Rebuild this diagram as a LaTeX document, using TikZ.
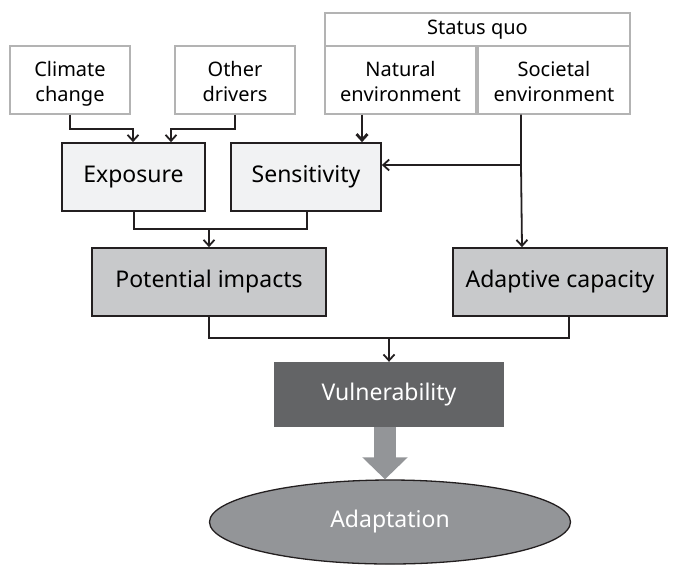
\documentclass[tikz,border=0pt]{standalone}
\usepackage{fontspec}
\setmainfont{Noto Sans}
\usepackage{tikz}
\usetikzlibrary{arrows.meta,shapes.geometric,calc}
\definecolor{boxline}{HTML}{231F20}
\definecolor{paleline}{HTML}{B3B3B3}
\definecolor{palefill}{HTML}{F1F2F3}
\definecolor{midfill}{HTML}{C8C9CB}
\definecolor{darkfill}{HTML}{636466}
\definecolor{fatgray}{HTML}{939598}
\newcommand{\twolines}[2]{\rule{0pt}{23pt}#1\\#2\rule[-6pt]{0pt}{6pt}}

\begin{document}
\begin{tikzpicture}[
  x=1pt, y=-1pt,
  small/.style={font=\fontsize{20}{25}\selectfont},
  large/.style={font=\fontsize{23}{27}\selectfont},
  driver/.style={draw=paleline, line width=1.4pt, fill=white, inner sep=0pt, align=center, minimum height=68pt, small},
  factor/.style={draw=boxline, line width=1.7pt, fill=palefill, inner sep=0pt, align=center, minimum height=68pt, large},
  impact/.style={factor, fill=midfill},
  vuln/.style={fill=darkfill, text=white, inner sep=0pt, minimum width=230pt, minimum height=65pt, large},
  outcome/.style={ellipse, draw=boxline, line width=1.3pt, fill=fatgray, text=white, inner sep=0pt, minimum width=361pt, minimum height=84pt, large},
  link/.style={draw=boxline, line width=1.8pt, -{Straight Barb[length=6pt,width=11pt]}},
  joint/.style={draw=boxline, line width=1.8pt},
  fat/.style={draw=fatgray, line width=22pt, -{Triangle[length=22pt,width=44pt]}},
]
\useasboundingbox (0,0) rectangle (679,566);

% Drivers and status quo
\node[driver, minimum width=120pt] (clim) at (70,80) {\twolines{Climate}{change}};
\node[driver, minimum width=120pt] (oth) at (235,80) {\twolines{Other}{drivers}};
\node[driver, minimum width=305pt, minimum height=33pt] (sq) at (477.5,29.5) {Status quo};
\node[driver, minimum width=151pt] (nat) at (400.5,80) {\twolines{Natural}{environment}};
\node[driver, minimum width=152pt] (soc) at (554,80) {\twolines{Societal}{environment}};

% Exposure and sensitivity
\node[factor, minimum width=143pt] (expo) at (133.5,177) {Exposure};
\node[factor, minimum width=150pt] (sens) at (306,177) {Sensitivity};

% Potential impacts and adaptive capacity
\node[impact, minimum width=234pt] (pot) at (209,282) {Potential impacts};
\node[impact, minimum width=214pt] (adap) at (560,282) {Adaptive capacity};

% Vulnerability and adaptation
\node[vuln] (vul) at (389,394.5) {Vulnerability};
\node[outcome] (adapt) at (390,522) {Adaptation};

\coordinate (br) at (521,165);
\coordinate (j1) at (209,229);
\coordinate (j2) at (389,338);

% Connectors
\draw[link] (clim.south) -- ++(0,14) -| ([xshift=-0.5pt]expo.north);
\draw[link] (oth.south) -- ++(0,14) -| ([xshift=37.5pt]expo.north);
\draw[link, line width=2.8pt] ([xshift=-38.5pt]nat.south) -- ([xshift=56pt]sens.north);
\draw[link] ([xshift=-33pt]soc.south) -- (br) -- ([xshift=-38pt]adap.north);
\draw[link] (br) -- (br -| sens.east);
\draw[joint] ([xshift=0.5pt]expo.south) -- ([xshift=0.5pt]expo.south |- j1) -- ([xshift=1pt]sens.south |- j1) -- ([xshift=1pt]sens.south);
\draw[link] (j1) -- (pot.north);
\draw[joint] (pot.south) -- (pot.south |- j2) -- ([xshift=9pt]adap.south |- j2) -- ([xshift=9pt]adap.south);
\draw[link] (j2) -- (vul.north);
\draw[fat] ([xshift=-4pt]vul.south) -- ([xshift=-5pt]adapt.north);

\end{tikzpicture}
\end{document}
